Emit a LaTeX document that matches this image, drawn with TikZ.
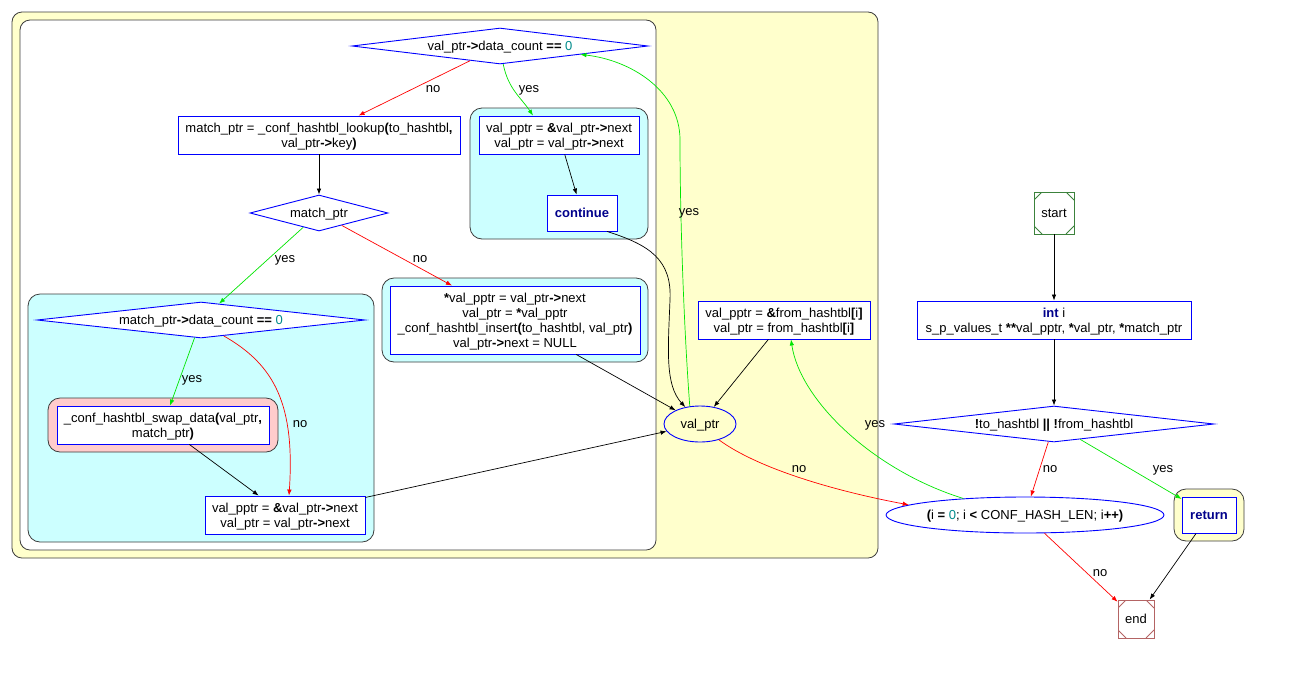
\documentclass[tikz,border=0pt]{standalone}
\usepackage{fontspec}
\setmainfont{Liberation Sans}
\usetikzlibrary{arrows.meta,shapes.geometric}

\definecolor{clborder}{RGB}{60,60,60}
\definecolor{yellowbg}{RGB}{255,255,204}
\definecolor{cyanbg}{RGB}{204,255,255}
\definecolor{pinkbg}{RGB}{255,204,204}
\definecolor{nodeblue}{RGB}{0,0,255}
\definecolor{edgegreen}{RGB}{0,230,0}
\definecolor{edgered}{RGB}{255,0,0}
\definecolor{startgreen}{RGB}{60,130,60}
\definecolor{endred}{RGB}{180,100,100}

% operators in bold, numbers in teal, keywords in bold navy
\newcommand\opb[1]{\textbf{#1}}
\newcommand\numc[1]{{\addfontfeature{Color=008B8B}#1}}
\newcommand\kwd[1]{{\bfseries\addfontfeature{Color=00008B}#1}}

\begin{document}
\begin{tikzpicture}[x=1pt,y=-1pt,
  every node/.style={font=\fontsize{13}{15}\selectfont, text depth=0pt},
  box/.style={draw=nodeblue, line width=0.9pt, fill=white, rectangle, align=center, inner sep=0pt},
  dia/.style={draw=nodeblue, line width=0.9pt, fill=white, diamond, inner sep=0pt, align=center},
  ell/.style={draw=nodeblue, line width=0.9pt, ellipse, inner sep=0pt},
  msq/.style={draw=#1, line width=0.9pt, rectangle, inner sep=0pt,
    path picture={
      \draw[#1, line width=0.9pt]
        ([xshift=8pt]path picture bounding box.north west) -- ([yshift=-8pt]path picture bounding box.north west)
        ([xshift=-8pt]path picture bounding box.north east) -- ([yshift=-8pt]path picture bounding box.north east)
        ([xshift=8pt]path picture bounding box.south west) -- ([yshift=8pt]path picture bounding box.south west)
        ([xshift=-8pt]path picture bounding box.south east) -- ([yshift=8pt]path picture bounding box.south east);
    }},
  cluster/.style={draw=clborder, line width=0.8pt, rounded corners=10pt},
  edge/.style={-{Latex[length=6pt,width=4.5pt]}, line width=0.7pt},
  yesedge/.style={edge, draw=edgegreen},
  noedge/.style={edge, draw=edgered},
  lbl/.style={inner sep=0pt},
]
\useasboundingbox (0,0) rectangle (1292,686);

% clusters
\draw[cluster, fill=yellowbg] (12,12) rectangle (878,558);
\draw[cluster, fill=white] (20,20) rectangle (656,550);
\draw[cluster, fill=cyanbg, rounded corners=12pt] (470,108) rectangle (648,239);
\draw[cluster, fill=cyanbg, rounded corners=12pt] (28,294) rectangle (374,542);
\draw[cluster, fill=cyanbg, rounded corners=12pt] (382,278) rectangle (648,362);
\draw[cluster, fill=pinkbg, rounded corners=12pt] (48,398) rectangle (278,452);
\draw[cluster, fill=yellowbg, rounded corners=12pt] (1174,489) rectangle (1244,541);

% nodes
\node[dia, minimum width=296pt, minimum height=36pt, aspect=8.22] (d1) at (500,46)
  {val\_ptr\opb{->}data\_count \opb{==} \numc{0}};
\node[box, minimum width=282pt, minimum height=38pt] (b1) at (319,135)
  {match\_ptr = \_conf\_hashtbl\_lookup\opb{(}to\_hashtbl\opb{,}\\val\_ptr\opb{->}key\opb{)}};
\node[box, minimum width=160pt, minimum height=38pt] (b2) at (559,135)
  {val\_pptr = \opb{\&}val\_ptr\opb{->}next\\val\_ptr = val\_ptr\opb{->}next};
\node[box, minimum width=70pt, minimum height=36pt] (cont) at (582,213) {\kwd{continue}};
\node[dia, minimum width=138pt, minimum height=36pt, aspect=3.83] (d2) at (319,213) {match\_ptr};
\node[dia, minimum width=328pt, minimum height=36pt, aspect=9.11] (d3) at (201,320)
  {match\_ptr\opb{->}data\_count \opb{==} \numc{0}};
\node[box, minimum width=212pt, minimum height=38pt] (b3) at (163,425)
  {\_conf\_hashtbl\_swap\_data\opb{(}val\_ptr\opb{,}\\match\_ptr\opb{)}};
\node[box, minimum width=160pt, minimum height=38pt] (b4) at (285,515)
  {val\_pptr = \opb{\&}val\_ptr\opb{->}next\\val\_ptr = val\_ptr\opb{->}next};
\node[box, minimum width=250pt, minimum height=68pt] (b5) at (515,320)
  {\opb{*}val\_pptr = val\_ptr\opb{->}next\\val\_ptr = \opb{*}val\_pptr\\\_conf\_hashtbl\_insert\opb{(}to\_hashtbl, val\_ptr\opb{)}\\val\_ptr\opb{->}next = NULL};
\node[box, minimum width=172pt, minimum height=38pt] (b6) at (784,320)
  {val\_pptr = \opb{\&}from\_hashtbl\opb{[}i\opb{]}\\val\_ptr = from\_hashtbl\opb{[}i\opb{]}};
\node[ell, minimum width=72pt, minimum height=36pt] (e1) at (700,424) {val\_ptr};
\node[msq=startgreen, minimum width=40pt, minimum height=42pt] (start) at (1054,213) {start};
\node[box, minimum width=274pt, minimum height=38pt] (b7) at (1054,320)
  {\kwd{int} i\\s\_p\_values\_t \opb{**}val\_pptr, \opb{*}val\_ptr, \opb{*}match\_ptr};
\node[dia, minimum width=320pt, minimum height=36pt, aspect=8.89] (d4) at (1054,424)
  {\opb{!}to\_hashtbl \opb{||} \opb{!}from\_hashtbl};
\node[ell, fill=white, minimum width=276pt, minimum height=36pt] (e2) at (1025,515)
  {\opb{(}i \opb{=} \numc{0}; i \opb{<} CONF\_HASH\_LEN; i\opb{++)}};
\node[box, minimum width=54pt, minimum height=36pt] (ret) at (1209,515) {\kwd{return}};
\node[msq=endred, minimum width=36pt, minimum height=38pt] (endn) at (1136,619) {end};

% bend points of the long curved edges
\coordinate (ybend) at (680,140);
\coordinate (cbend) at (670,300);

% edges
\draw[edge] (start) -- (b7);
\draw[edge] (b7) -- (d4);
\draw[noedge] (d4) -- (e2);
\draw[yesedge] (d4) -- (ret);
\draw[edge] (ret) -- (endn);
\draw[noedge] (e2) -- (endn);
\draw[yesedge] (e2.165) .. controls +(-90,-28) and +(9,61) .. ([xshift=7pt]b6.south);
\draw[edge] (b6) -- (e1);
\draw[yesedge] (e1.120) .. controls (684,330) and (680,220) .. (ybend)
  .. controls (680,90) and (630,60) .. (d1.-6);
\draw[edge] ([xshift=25pt]cont.south) .. controls (650,245) and (672,260) .. (cbend)
  .. controls (668,350) and (665,385) .. (e1.131);
\draw[edge] (b5) -- (e1);
\draw[edge] (b4) -- (e1);
\draw[noedge] (e1.-40) .. controls (760,470) and (840,492) .. (e2.175);
\draw[noedge] (d1) -- (b1);
\draw[yesedge] (d1.-80) .. controls +(5,25) and +(-12,-18) .. ([xshift=-26pt]b2.north);
\draw[edge] (b1) -- (d2);
\draw[edge] (b2) -- (cont);
\draw[yesedge] (d2) -- (d3);
\draw[noedge] (d2) -- (b5);
\draw[yesedge] (d3) -- (b3);
\draw[noedge] (d3.-35) .. controls (275,365) and (295,405) .. ([xshift=4pt]b4.north);
\draw[edge] (b3) -- (b4);

% edge labels
\node[lbl] (l1) at (433,89) {no};
\node[lbl] (l2) at (529,89) {yes};
\node[lbl] (l3) at (689,212) {yes};
\node[lbl] (l4) at (285,259) {yes};
\node[lbl] (l5) at (420,259) {no};
\node[lbl] (l6) at (192,379) {yes};
\node[lbl] (l7) at (300,424) {no};
\node[lbl] (l8) at (875,424) {yes};
\node[lbl] (l9) at (799,469) {no};
\node[lbl] (l10) at (1050,469) {no};
\node[lbl] (l11) at (1163,469) {yes};
\node[lbl] (l12) at (1100,573) {no};
\end{tikzpicture}
\end{document}
